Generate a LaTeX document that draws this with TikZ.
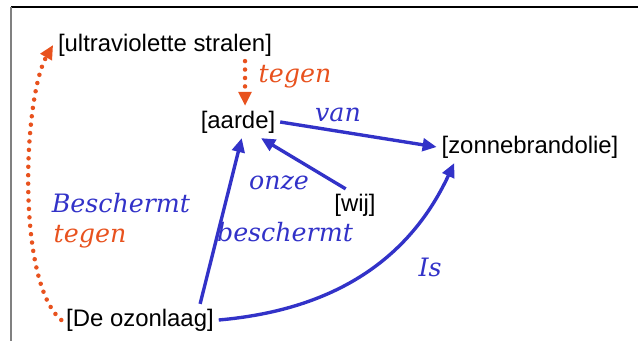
\documentclass[tikz,border=0pt]{standalone}
\usepackage{fontspec}
\setmainfont{Liberation Sans}
\newfontfamily\handfont{DejaVu Serif}
\usepackage{xcolor}
\usetikzlibrary{arrows.meta}

\definecolor{relblue}{RGB}{50,50,200}
\definecolor{relorange}{RGB}{232,82,30}

\begin{document}
\begin{tikzpicture}[x=0.025cm, y=0.025cm,
  concept/.style={font=\fontsize{17}{20}\selectfont},
  rel/.style={relblue, line width=2.4pt, -{Triangle[length=10pt,width=9pt]}},
  dotrel/.style={relorange, line width=3.2pt, line cap=round, dash pattern=on 0pt off 6pt, -{Triangle[length=10pt,width=9pt]}},
  bluelbl/.style={relblue, font=\handfont\itshape\fontsize{18}{20}\selectfont},
  orangelbl/.style={relorange, font=\handfont\itshape\fontsize{18}{20}\selectfont}]
\useasboundingbox (0,0) rectangle (638,341);

% frame
\draw[black, line width=1.2pt] (11,334) -- (638,334);
\draw[gray, line width=1.2pt] (11,334) -- (11,0);

\node[concept] (uv) at (165,296) {[ultraviolette stralen]};
\node[concept] (aarde) at (238,219) {[aarde]};
\node[concept] (zonne) at (530,194) {[zonnebrandolie]};
\node[concept] (wij) at (355,136) {[wij]};
\node[concept] (ozon) at (140,21) {[De ozonlaag]};

\draw[dotrel] ([xshift=5pt]aarde.north |- uv.south) -- ([xshift=5pt]aarde.north);
\draw[dotrel] (ozon.west) to[out=140, in=240, looseness=0.55] (uv.west);

\draw[rel] (aarde.east) -- (zonne.west);
\draw[rel] (wij.120) -- (aarde.-35);
\draw[rel] (ozon.15) -- (aarde.-77);
\draw[rel] (ozon.east) to[out=5, in=245] (zonne.-168);

\node[orangelbl] (tegen_top) at (295,264) {tegen};
\node[bluelbl] (van) at (338,226) {van};
\node[bluelbl] (onze) at (279,158) {onze};
\node[bluelbl] (beschermt_left) at (121,138) {Beschermt};
\node[orangelbl] (tegen_left) at (90,104) {tegen};
\node[bluelbl] (beschermt_mid) at (285,109) {beschermt};
\node[bluelbl] (is) at (430,74) {Is};

\end{tikzpicture}
\end{document}
